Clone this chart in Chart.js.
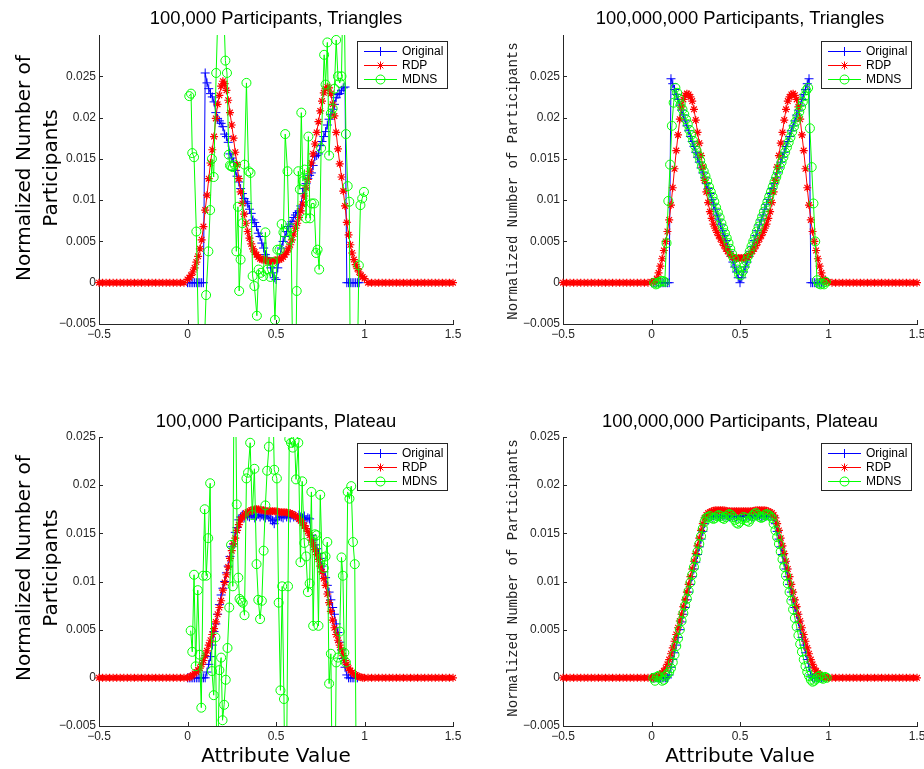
<!DOCTYPE html>
<html><head><meta charset="utf-8">
<script src="https://cdn.jsdelivr.net/npm/chart.js@4.4.1/dist/chart.umd.min.js"></script>
<style>
html,body{margin:0;padding:0;background:#fff;overflow:hidden;width:924px;height:769px;}
canvas{position:absolute;}
.title{position:absolute;font-family:"Liberation Sans",Arial,sans-serif;font-size:18.4px;color:#000;white-space:nowrap;transform:translate(-50%,-50%);}
.ylab{position:absolute;font-family:"DejaVu Sans",sans-serif;font-size:20px;line-height:27px;text-align:center;white-space:nowrap;color:#000;transform:translate(-50%,-50%) rotate(-90deg);}
.ylab2{position:absolute;font-family:"Liberation Mono","Courier New",monospace;font-size:14px;white-space:nowrap;color:#222;transform:translate(-50%,-50%) rotate(-90deg);}
.xlab{position:absolute;font-family:"DejaVu Sans",sans-serif;font-size:20px;white-space:nowrap;color:#000;transform:translate(-50%,-50%);}
</style></head>
<body>
<canvas id="c0" width="462" height="345" style="left:0;top:0"></canvas>
<canvas id="c1" width="460" height="345" style="left:464px;top:0"></canvas>
<canvas id="c2" width="462" height="362" style="left:0;top:385px"></canvas>
<canvas id="c3" width="460" height="362" style="left:464px;top:385px"></canvas>

<div class="title" style="left:276px;top:18px">100,000 Participants, Triangles</div>
<div class="title" style="left:740px;top:18px">100,000,000 Participants, Triangles</div>
<div class="title" style="left:276px;top:421px">100,000 Participants, Plateau</div>
<div class="title" style="left:740px;top:421px">100,000,000 Participants, Plateau</div>
<div class="ylab" style="left:37px;top:168px">Normalized Number of<br>Participants</div>
<div class="ylab" style="left:37px;top:568px">Normalized Number of<br>Participants</div>
<div class="ylab2" style="left:513px;top:181px">Normalized Number of Participants</div>
<div class="ylab2" style="left:513px;top:578px">Normalized Number of Participants</div>
<div class="xlab" style="left:276px;top:755px">Attribute Value</div>
<div class="xlab" style="left:740px;top:755px">Attribute Value</div>

<script>
// ---------- tick labels / names ----------
const X_TICKS = [-0.5, 0, 0.5, 1, 1.5];
const X_TICK_LABELS = ['\u22120.5', '0', '0.5', '1', '1.5'];
const Y_TICKS = [-0.005, 0, 0.005, 0.01, 0.015, 0.02, 0.025];
const Y_TICK_LABELS = ['\u22120.005', '0', '0.005', '0.01', '0.015', '0.02', '0.025'];
const SERIES = ['Original', 'RDP', 'MDNS'];

// ---------- data (values in thousandths, i.e. 1e-3) ----------
// x grid helper (only for x positions)
function grid(start, step, n) { return Array.from({length: n}, (_, i) => +(start + i * step).toFixed(4)); }
const X_MID = grid(0, 0.01, 101);          // 0.00 .. 1.00
const X_TAIL_L = grid(-0.5, 0.02, 25);     // -0.50 .. -0.02
const X_TAIL_R = grid(1.02, 0.02, 25);     // 1.02 .. 1.50
const X_RDP = [...X_TAIL_L, ...X_MID, ...X_TAIL_R];
const RDP_TAIL = [0,0,0,0,0,0,0,0,0,0,0,0,0,0,0,0,0,0,0,0,0,0,0,0,0];

// Top-left: 100,000 Participants, Triangles
const TL_ORIG = [0,0,0,0,0,0,0,0,0,0,
 25.4,24.2,23.5,22.9,22.5,21.9,20.6,19.9,19.6,19.3,
 18.9,18.0,17.7,17.0,15.6,15.1,14.6,13.6,12.9,12.2,
 11.4,10.8,10.2,9.8,9.6,8.9,8.4,7.6,7.3,6.8,
 6.0,5.6,4.8,4.2,3.4,3.0,2.6,1.8,1.2,0.6,
 0.4,1.8,3.0,4.2,5.0,5.6,6.2,6.8,7.1,7.4,
 7.9,8.2,8.5,8.7,9.3,10.8,11.4,12.0,12.6,13.0,
 13.3,14.2,15.3,15.4,15.6,16.6,17.1,17.7,18.3,19.1,
 19.8,20.4,21.0,21.6,22.4,22.8,22.9,23.3,23.6,23.7,
 0,0,0,0,0,0,0,0];
const TL_RDP = [0.4,0.6,0.9,1.3,1.8,2.5,3.2,4.1,5.2,6.8,
 8.8,10.6,12.6,14.5,16.1,17.7,19.9,21.6,22.7,23.8,
 24.4,24.1,23.3,22.1,20.6,19.1,17.5,15.8,14.3,12.6,
 11.0,9.6,8.3,7.2,6.2,5.4,4.7,4.1,3.7,3.4,
 3.1,2.9,2.8,2.8,2.7,2.7,2.6,2.6,2.6,2.7,
 2.7,2.8,2.8,2.9,3.1,3.4,3.7,4.1,4.6,5.2,
 5.9,6.6,7.2,7.9,8.7,9.5,10.5,11.5,12.5,13.5,
 14.5,15.6,16.8,18.2,19.5,20.8,22.0,23.0,23.5,23.7,
 23.6,22.9,21.6,20.2,18.2,16.2,14.4,12.8,11.1,9.3,
 7.3,5.8,4.6,3.6,2.8,2.2,1.7,1.3,0.9,0.7,
 0.5];
const TL_MDNS_X = [0.010,0.020,0.027,0.037,0.050,0.075,0.105,0.118,0.128,0.138,
 0.148,0.162,0.188,0.214,0.223,0.233,0.240,0.247,0.256,0.265,
 0.276,0.285,0.292,0.300,0.310,0.322,0.333,0.345,0.356,0.368,
 0.378,0.392,0.402,0.415,0.428,0.440,0.452,0.468,0.482,0.494,
 0.508,0.520,0.532,0.542,0.552,0.565,0.575,0.585,0.603,0.617,
 0.626,0.635,0.643,0.652,0.661,0.670,0.683,0.692,0.701,0.715,
 0.727,0.735,0.744,0.755,0.772,0.780,0.790,0.800,0.810,0.820,
 0.830,0.840,0.850,0.860,0.870,0.882,0.895,0.905,0.914,0.930,
 0.950,0.968,0.977,0.987,0.997];
const TL_MDNS_Y = [22.6,22.9,15.7,15.2,6.2,-20,-1.5,3.8,8.8,15.0,
 12.8,25.4,45,26.9,25.4,15.5,14.2,14.1,14.0,14.3,
 3.8,9.2,-1.0,2.8,7.2,14.3,24.2,13.5,13.3,0.8,
 -0.4,-4.0,1.6,1.2,0.8,6.1,1.6,0.7,2.5,-4.5,
 4.0,4.0,7.1,6.1,18.0,13.5,5.2,6.6,-25,-1.0,
 13.5,11.3,20.6,12.3,13.7,7.8,17.7,7.8,9.6,9.6,
 3.6,4.0,1.6,16.3,27.6,24.0,29.1,15.4,20.5,21.1,
 23.5,29.4,25.0,24.2,25.0,40,18.0,11.7,9.8,-50,
 -25,2.1,9.4,10.2,11.0];

// Top-right: 100,000,000 Participants, Triangles
const TR_ORIG = [0,0,0,0,0,0,0,0,0,0,
 0,24.7,24.1,23.4,22.8,22.2,21.5,20.9,20.3,19.6,
 19.0,18.4,17.7,17.1,16.5,15.8,15.2,14.6,13.9,13.3,
 12.7,12.0,11.4,10.8,10.1,9.5,8.9,8.2,7.6,7.0,
 6.3,5.7,5.1,4.4,3.8,3.2,2.5,1.9,1.3,0.6,
 0.0,0.6,1.3,1.9,2.5,3.2,3.8,4.4,5.1,5.7,
 6.3,7.0,7.6,8.2,8.9,9.5,10.1,10.8,11.4,12.0,
 12.7,13.3,13.9,14.6,15.2,15.8,16.5,17.1,17.7,18.4,
 19.0,19.6,20.3,20.9,21.5,22.2,22.8,23.4,24.1,24.7,
 0,0,0,0,0,0,0,0];
const TR_RDP = [0.1,0.1,0.2,0.5,1.2,2.0,2.9,3.9,5.0,6.2,
 7.6,9.4,11.5,13.8,16.0,17.9,19.8,21.3,22.2,22.7,
 22.9,22.8,22.5,22.0,21.0,19.7,18.2,16.9,15.4,14.0,
 12.4,11.0,9.7,8.6,7.8,7.1,6.6,6.1,5.7,5.3,
 4.9,4.5,4.1,3.8,3.5,3.3,3.1,3.0,3.0,3.0,
 3.0,
 3.0,3.0,3.0,3.1,3.3,3.5,3.8,4.1,4.5,4.9,
 5.3,5.7,6.1,6.6,7.1,7.8,8.6,9.7,11.0,12.4,
 14.0,15.4,16.9,18.2,19.7,21.0,22.0,22.5,22.8,22.9,
 22.7,22.2,21.3,19.8,17.9,16.0,13.8,11.5,9.4,7.6,
 6.2,5.0,3.9,2.9,2.0,1.2,0.5,0.2,0.1,0.1];
const TR_MDNS_X = grid(0.015, 0.01, 98);
const TR_MDNS = [0.0,-0.2,-0.1,0.1,0.2,0.2,0.1,4.8,9.9,14.3,
 19.0,21.8,23.6,23.0,22.3,21.6,21.0,20.4,19.8,19.2,
 18.5,17.9,17.2,16.6,16.0,15.4,14.8,14.1,13.5,12.9,
 12.3,11.6,11.0,10.4,9.8,9.1,8.5,7.9,7.2,6.6,
 6.0,5.4,4.8,4.1,3.5,2.9,2.2,1.6,1.0,0.9,
 1.4,2.0,2.6,3.2,3.8,4.4,5.0,5.6,6.2,6.8,
 7.4,8.0,8.6,9.2,9.8,10.4,11.0,11.6,12.2,12.8,
 13.4,14.0,14.6,15.2,15.8,16.4,17.0,17.6,18.3,18.9,
 19.5,20.1,20.7,21.3,21.9,22.6,23.3,23.6,18.7,14.0,
 9.6,5.0,0.3,-0.1,-0.2,-0.1,-0.2,0.1];

// Bottom-left: 100,000 Participants, Plateau
const BL_ORIG = [0,0,0,0,0,0,0,0,0,0,
 0,0.6,1.4,2.2,3.4,4.8,5.6,6.6,7.6,8.6,
 9.3,10.0,10.9,11.6,12.6,13.6,13.9,15.1,15.6,16.4,
 16.7,16.9,16.6,17.0,16.8,16.7,17.0,16.9,16.6,16.8,
 17.0,16.7,16.9,16.8,16.6,16.9,16.7,16.5,16.3,16.0,
 16.4,16.6,16.8,16.7,16.6,16.9,16.7,16.8,16.6,16.9,
 16.7,16.8,16.6,16.9,16.7,16.6,16.8,16.4,16.6,16.5,
 14.8,14.3,13.8,13.4,12.9,12.4,11.6,11.0,10.4,9.6,
 8.9,8.1,7.3,6.6,5.6,4.7,3.7,2.9,2.0,1.1,
 0.3,0,0,0,0,0,0];
const BL_RDP = [0.0,0.05,0.15,0.3,0.45,0.6,0.8,1.0,1.4,1.8,
 2.3,2.8,3.4,3.9,4.5,5.1,5.8,6.6,7.3,8.0,
 9.1,9.9,10.7,11.5,12.4,13.2,13.9,14.5,15.3,15.9,
 16.4,16.7,16.9,17.1,17.2,17.3,17.4,17.45,17.5,17.5,
 17.5,17.45,17.4,17.4,17.35,17.3,17.3,17.3,17.3,17.3,
 17.3,17.25,17.2,17.2,17.2,17.2,17.15,17.1,17.1,17.0,
 16.9,16.8,16.7,16.5,16.3,16.1,15.8,15.5,15.2,14.8,
 14.3,13.8,13.3,12.8,12.3,11.6,11.0,10.3,9.6,8.7,
 7.8,6.9,6.0,5.2,4.5,3.9,3.4,2.9,2.3,1.8,
 1.4,1.0,0.75,0.55,0.4,0.3,0.2,0.1,0.05,0.0,
 0.0];
const BL_MDNS_X = [0.018,0.027,0.037,0.046,0.058,0.068,0.078,0.088,0.097,0.106,
 0.117,0.128,0.138,0.148,0.158,0.168,0.180,0.190,0.198,0.207,
 0.216,0.226,0.236,0.246,0.256,0.266,0.278,0.287,0.294,0.303,
 0.312,0.322,0.333,0.342,0.354,0.366,0.378,0.390,0.400,0.410,
 0.420,0.430,0.440,0.450,0.460,0.472,0.490,0.505,0.515,0.525,
 0.535,0.545,0.555,0.568,0.575,0.585,0.595,0.605,0.613,0.626,
 0.638,0.648,0.660,0.670,0.680,0.690,0.700,0.710,0.720,0.730,
 0.740,0.750,0.760,0.770,0.780,0.790,0.800,0.810,0.820,0.830,
 0.840,0.850,0.860,0.870,0.878,0.886,0.895,0.905,0.915,0.925,
 0.935,0.945,0.955];
const BL_MDNS_Y = [4.9,2.7,10.7,1.2,9.1,2.4,-3.1,10.6,17.5,10.6,
 14.5,20.2,0.7,-1.8,4.2,-12,0.8,2.1,-4.4,-2.8,
 -0.2,3.1,7.3,13.8,9.5,40,18.0,10.4,8.2,8.0,
 7.8,6.5,20.7,21.3,24.4,16.9,21.7,11.8,8.1,6.1,
 8.0,13.2,17.9,21.5,24.0,40,21.6,20.7,7.8,-1.3,
 9.5,-2.2,-20,9.5,24.8,24.4,23.9,24.6,20.6,24.4,
 12.0,20.4,14.0,12.6,8.9,9.8,19.3,5.4,14.9,14.8,
 5.4,19.0,12.5,11.4,12.6,14.1,-0.6,2.5,-15,-20,
 1.6,2.1,4.8,12.5,10.6,2.6,1.6,19.3,18.6,19.9,
 14.1,11.8,-15];

// Bottom-right: 100,000,000 Participants, Plateau
const BR_ORIG = [0,0,0,0,0,0,0,0,0,0,
 0.3,1.1,1.9,2.6,3.4,4.2,5.0,5.8,6.6,7.3,
 8.1,8.9,9.7,10.5,11.3,12.0,12.8,13.6,14.4,15.2,
 16.0,16.7,16.8,16.8,16.7,16.8,16.9,16.8,16.8,16.7,
 16.8,16.8,16.9,16.8,16.7,16.8,16.8,16.8,16.7,16.8,
 16.8,16.8,16.7,16.8,16.9,16.8,16.8,16.7,16.8,16.8,
 16.9,16.8,16.7,16.8,16.8,16.8,16.9,16.8,16.8,16.7,
 16.0,15.2,14.4,13.6,12.8,12.0,11.3,10.5,9.7,8.9,
 8.1,7.3,6.6,5.8,5.0,4.2,3.4,2.6,1.9,1.1,
 0.3,0,0,0,0,0,0,0];
const BR_RDP = [0.0,0.0,0.05,0.1,0.2,0.35,0.5,0.7,1.0,1.4,
 1.9,2.5,3.1,3.8,4.5,5.2,5.9,6.6,7.4,8.1,
 8.9,9.7,10.5,11.3,12.1,12.9,13.7,14.5,15.3,16.0,
 16.6,16.9,17.1,17.2,17.3,17.35,17.4,17.4,17.4,17.4,
 17.4,17.4,17.35,17.3,17.3,17.3,17.3,17.3,17.3,17.3,
 17.3,
 17.3,17.3,17.3,17.3,17.3,17.3,17.3,17.35,17.4,17.4,
 17.4,17.4,17.4,17.4,17.35,17.3,17.2,17.1,16.9,16.6,
 16.0,15.3,14.5,13.7,12.9,12.1,11.3,10.5,9.7,8.9,
 8.1,7.4,6.6,5.9,5.2,4.5,3.8,3.1,2.5,1.9,
 1.4,1.0,0.7,0.5,0.35,0.2,0.1,0.05,0.0,0.0];
const BR_MDNS_X = grid(0.01, 0.01, 99);
const BR_MDNS = [0.0,-0.3,0.1,0.2,0.0,-0.3,-0.2,0.2,0.4,0.6,
 1.0,1.6,2.4,3.3,4.1,5.0,5.9,6.7,7.5,8.2,
 9.0,9.9,10.7,11.5,12.3,13.1,13.9,14.7,15.5,16.2,
 16.6,16.7,16.8,16.6,16.5,16.6,16.8,16.9,16.8,16.6,
 16.5,16.7,16.9,17.0,16.9,16.7,16.4,16.1,16.0,16.2,
 16.5,16.7,16.6,16.3,16.2,16.5,16.8,17.0,17.1,16.9,
 16.7,16.6,16.7,16.9,17.0,16.9,16.8,16.6,16.0,15.3,
 14.6,13.9,13.1,12.3,11.5,10.6,9.8,8.9,8.0,7.1,
 6.2,5.3,4.4,3.5,2.7,1.9,1.2,0.6,0.2,-0.2,
 -0.4,-0.3,-0.1,0.1,0.2,0.0,-0.1,0.1,0.0];

// ---------- chart building ----------
const COLORS = {orig: '#0000ff', rdp: '#ff0000', mdns: '#00ff00'};
function pts(xs, ys) { return ys.map((v, i) => ({x: xs[i], y: v / 1000})); }
const CLIP = {left: 6, right: 6, top: 0, bottom: 0};

function datasets(orig, rdp, mdnsX, mdnsY) {
  return [
    {label: SERIES[0], data: pts(X_MID, orig), borderColor: COLORS.orig, backgroundColor: COLORS.orig,
     pointStyle: 'cross', pointRadius: 4.5, pointBorderWidth: 1, borderWidth: 1, order: 3, clip: CLIP},
    {label: SERIES[1], data: pts(X_RDP, [...RDP_TAIL, ...rdp, ...RDP_TAIL]), borderColor: COLORS.rdp, backgroundColor: COLORS.rdp,
     pointStyle: 'star', pointRadius: 4, pointBorderWidth: 1.2, borderWidth: 1, order: 2, clip: CLIP},
    {label: SERIES[2], data: pts(mdnsX, mdnsY), borderColor: COLORS.mdns, backgroundColor: 'rgba(0,0,0,0)',
     pointBackgroundColor: 'rgba(0,0,0,0)', pointStyle: 'circle', pointRadius: 4.5, pointBorderWidth: 1, borderWidth: 1, order: 1, clip: CLIP}
  ];
}

const AXIS_COLOR = '#262626';
const TICK_FONT = {family: '"Liberation Sans", Arial, sans-serif', size: 12};

const innerTicks = {
  id: 'innerTicks',
  beforeDatasetsDraw(chart) {
    const {ctx, chartArea: a, scales: {x, y}} = chart;
    ctx.save();
    ctx.strokeStyle = AXIS_COLOR; ctx.lineWidth = 1;
    ctx.beginPath();
    X_TICKS.forEach(v => { const px = Math.round(x.getPixelForValue(v)) + 0.5; ctx.moveTo(px, a.bottom); ctx.lineTo(px, a.bottom - 4); });
    Y_TICKS.forEach(v => { if (v <= y.max + 1e-9) { const py = Math.round(y.getPixelForValue(v)) + 0.5; ctx.moveTo(a.left, py); ctx.lineTo(a.left + 4, py); } });
    ctx.stroke();
    ctx.restore();
  }
};

const boxLegend = {
  id: 'boxLegend',
  afterDraw(chart) {
    const {ctx, chartArea: a} = chart;
    const w = 90, h = 47;
    const bx = Math.round(a.right - 6 - w), by = Math.round(a.top + 6);
    ctx.save();
    ctx.fillStyle = '#fff'; ctx.fillRect(bx, by, w, h);
    ctx.strokeStyle = AXIS_COLOR; ctx.lineWidth = 1; ctx.strokeRect(bx + 0.5, by + 0.5, w, h);
    const ds = chart.data.datasets;
    ds.forEach((d, i) => {
      const cy = by + 10 + i * 14;
      ctx.strokeStyle = d.borderColor; ctx.lineWidth = 1;
      ctx.beginPath(); ctx.moveTo(bx + 7, cy + 0.5); ctx.lineTo(bx + 40, cy + 0.5); ctx.stroke();
      ctx.fillStyle = 'rgba(0,0,0,0)';
      Chart.helpers.drawPoint(ctx, {pointStyle: d.pointStyle, rotation: 0, radius: d.pointRadius, borderWidth: 1}, bx + 23.5, cy + 0.5);
      ctx.fillStyle = '#000';
      ctx.font = '12px "Liberation Sans", Arial, sans-serif';
      ctx.textBaseline = 'middle'; ctx.textAlign = 'left';
      ctx.fillText(d.label, bx + 45, cy + 1);
    });
    ctx.restore();
  }
};

function labelFor(list, labels, v) {
  const i = list.findIndex(t => Math.abs(t - v) < 1e-9);
  return i >= 0 ? labels[i] : '';
}

function makeChart(id, ds, yMax, padTop, padRight) {
  return new Chart(document.getElementById(id), {
    type: 'scatter',
    data: {datasets: ds},
    plugins: [innerTicks, boxLegend],
    options: {
      responsive: false, animation: false, events: [],
      showLine: true,
      elements: {line: {tension: 0}},
      layout: {padding: {top: padTop, right: padRight, left: 0, bottom: 0}},
      plugins: {legend: {display: false}, tooltip: {enabled: false}},
      scales: {
        x: {
          type: 'linear', min: -0.5, max: 1.5,
          grid: {display: false, drawTicks: false},
          border: {display: true, color: AXIS_COLOR, width: 1},
          afterBuildTicks: s => { s.ticks = X_TICKS.map(v => ({value: v})); },
          afterFit: s => { s.height = 21; s.paddingLeft = 0; s.paddingRight = 0; },
          ticks: {padding: 3, color: AXIS_COLOR, font: TICK_FONT, maxRotation: 0, autoSkip: false,
                  callback: v => labelFor(X_TICKS, X_TICK_LABELS, v)}
        },
        y: {
          type: 'linear', min: -0.005, max: yMax,
          grid: {display: false, drawTicks: false},
          border: {display: true, color: AXIS_COLOR, width: 1},
          afterBuildTicks: s => { s.ticks = Y_TICKS.filter(v => v <= yMax + 1e-9).map(v => ({value: v})); },
          afterFit: s => { s.width = 99; s.paddingTop = 0; s.paddingBottom = 0; },
          ticks: {padding: 3, color: AXIS_COLOR, font: TICK_FONT, autoSkip: false,
                  callback: v => labelFor(Y_TICKS, Y_TICK_LABELS, v)}
        }
      }
    }
  });
}

makeChart('c0', datasets(TL_ORIG, TL_RDP, TL_MDNS_X, TL_MDNS_Y), 0.03, 35, 9);
makeChart('c1', datasets(TR_ORIG, TR_RDP, TR_MDNS_X, TR_MDNS), 0.03, 35, 7);
makeChart('c2', datasets(BL_ORIG, BL_RDP, BL_MDNS_X, BL_MDNS_Y), 0.025, 52, 9);
makeChart('c3', datasets(BR_ORIG, BR_RDP, BR_MDNS_X, BR_MDNS), 0.025, 52, 7);
</script>
</body></html>
